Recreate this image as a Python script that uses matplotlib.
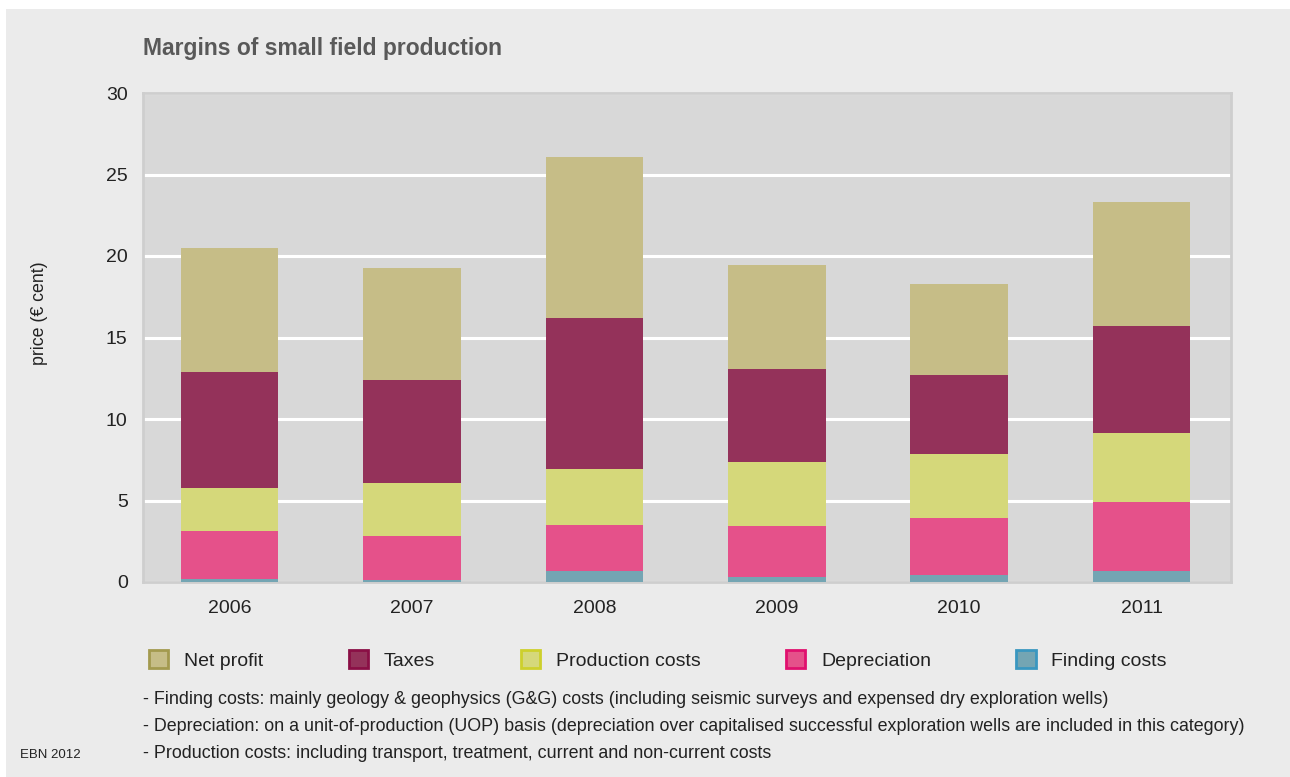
import numpy as np
import matplotlib.pyplot as plt
from matplotlib.patches import Patch, Rectangle

plt.rcParams['font.family'] = ['Liberation Sans', 'DejaVu Sans']

# Datos (céntimos de euro)
anios = ['2006', '2007', '2008', '2009', '2010', '2011']
finding_costs = [0.20, 0.15, 0.67, 0.30, 0.43, 0.67]
depreciation = [2.93, 2.67, 2.83, 3.14, 3.50, 4.23]
production_costs = [2.64, 3.25, 3.43, 3.92, 3.92, 4.24]
taxes = [7.11, 6.33, 9.27, 5.71, 4.85, 6.56]
net_profit = [7.62, 6.86, 9.90, 6.38, 5.58, 7.60]

series = [
    ('Finding costs', finding_costs, '#74a5b3', '#3a97c0'),
    ('Depreciation', depreciation, '#e5518a', '#e0106e'),
    ('Production costs', production_costs, '#d5d87a', '#cdd02c'),
    ('Taxes', taxes, '#94325a', '#8a0f45'),
    ('Net profit', net_profit, '#c6bd87', '#a39a4e'),
]

notas = [
    '- Finding costs: mainly geology & geophysics (G&G) costs (including seismic surveys and expensed dry exploration wells)',
    '- Depreciation: on a unit-of-production (UOP) basis (depreciation over capitalised successful exploration wells are included in this category)',
    '- Production costs: including transport, treatment, current and non-current costs',
]

fig = plt.figure(figsize=(12.9, 7.77), dpi=100, facecolor='white')
W, H = 1290, 777
# panel gris de fondo
fig.patches.append(Rectangle((6 / W, 0), 1, 1 - 9 / H, transform=fig.transFigure,
                             facecolor='#ebebeb', edgecolor='none', zorder=-10))

ax = fig.add_axes([143 / W, 1 - 582 / H, (1231 - 143) / W, (582 - 93) / H])
ax.set_facecolor('#d8d8d8')

x = np.arange(len(anios))
base = np.zeros(len(anios))
for nombre, valores, color, borde in series:
    ax.bar(x, valores, width=0.535, bottom=base, color=color, edgecolor='none', zorder=3)
    base = base + np.array(valores)

ax.set_xlim(-0.475, 5.49)
ax.set_ylim(0, 30)
ax.set_yticks(range(0, 31, 5))
ax.set_xticks(x)
ax.set_xticklabels(anios)
ax.tick_params(length=0, labelsize=14, colors='#222222')
ax.tick_params(axis='y', pad=11)
ax.tick_params(axis='x', pad=13)
ax.grid(axis='y', color='white', linewidth=2.2, zorder=1)
ax.set_axisbelow(True)
for s in ax.spines.values():
    s.set_color('#cecece')
    s.set_linewidth(2)

fig.text(40 / W, 1 - 313 / H, 'price (€ cent)', rotation=90, ha='center', va='center',
         fontsize=12.8, color='#222222')
fig.text(143 / W, 1 - 49 / H, 'Margins of small field production', ha='left', va='center',
         fontsize=16.5, fontweight='bold', color='#595959')

# leyenda en el orden de arriba a abajo
handles = [Patch(facecolor=c, edgecolor=b, linewidth=2, label=n) for n, v, c, b in series[::-1]]
fig.legend(handles=handles, loc='center left', bbox_to_anchor=(149 / W, 1 - 660 / H),
           ncol=5, frameon=False, fontsize=14, handlelength=1.0, handleheight=1.0,
           handletextpad=0.8, columnspacing=4.4, borderpad=0, borderaxespad=0,
           labelcolor='#222222')

for i, t in enumerate(notas):
    fig.text(143 / W, 1 - (699 + 27.5 * i) / H, t, ha='left', va='center',
             fontsize=12.9, color='#222222')
fig.text(20 / W, 1 - 755 / H, 'EBN 2012', ha='left', va='center', fontsize=9.5, color='#222222')

fig.savefig('out.png', dpi=100, facecolor=fig.get_facecolor())
